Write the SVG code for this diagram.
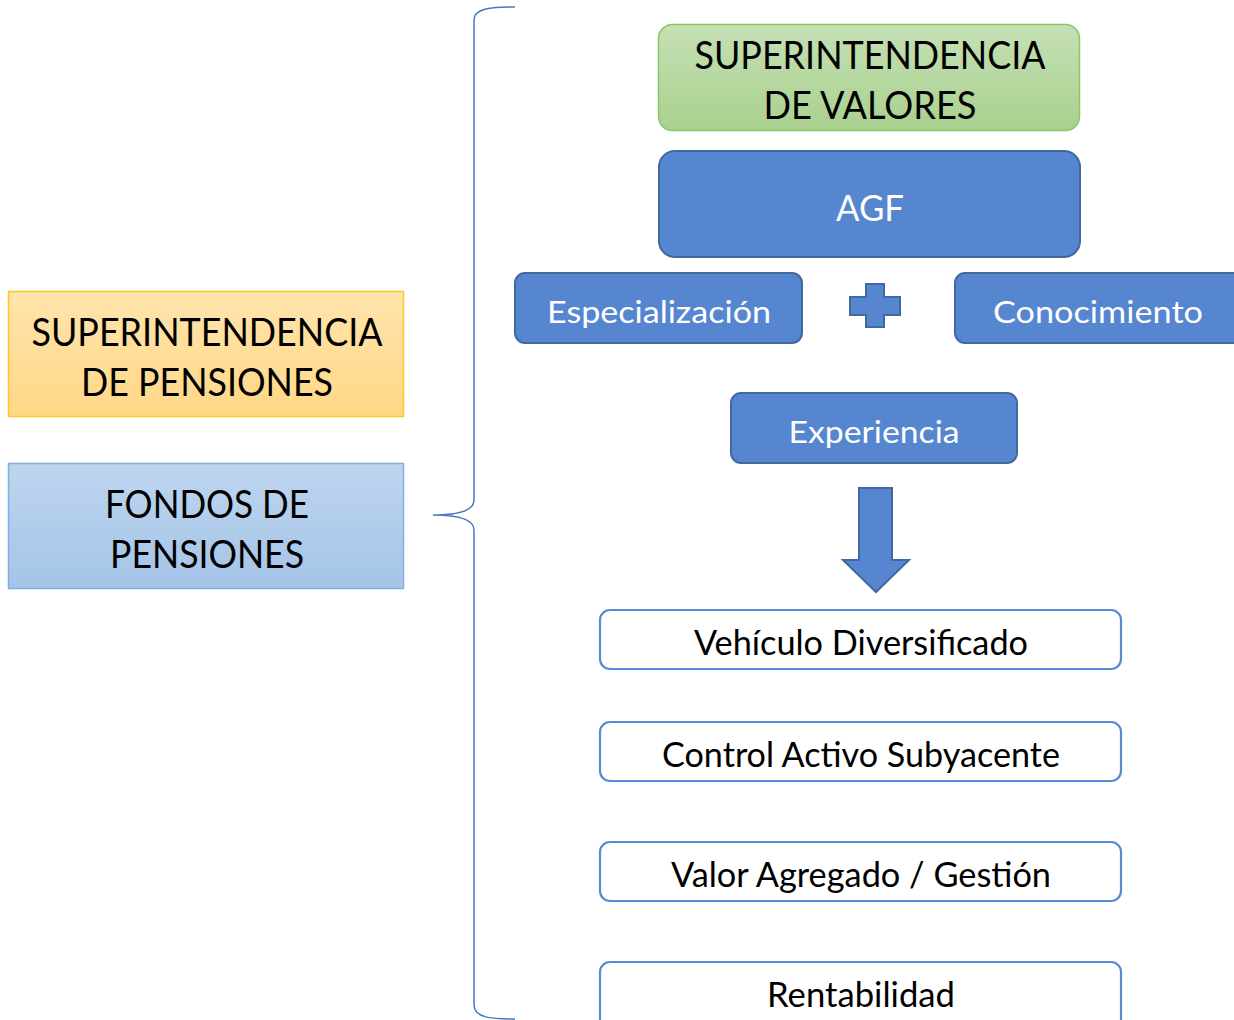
<svg xmlns="http://www.w3.org/2000/svg" width="1234" height="1020" viewBox="0 0 1234 1020">
<defs>
<linearGradient id="gGreen" x1="0" y1="0" x2="0" y2="1"><stop offset="0" stop-color="#c6e0b5"/><stop offset="1" stop-color="#a9d18e"/></linearGradient>
<linearGradient id="gOrange" x1="0" y1="0" x2="0" y2="1"><stop offset="0" stop-color="#ffe4ad"/><stop offset="1" stop-color="#ffd886"/></linearGradient>
<linearGradient id="gBlue" x1="0" y1="0" x2="0" y2="1"><stop offset="0" stop-color="#bed5ee"/><stop offset="1" stop-color="#a4c4e8"/></linearGradient>
<style>
text{font-family:"Lato","Open Sans","Liberation Sans",sans-serif;text-anchor:middle}
.dk{fill:#000;font-size:38px}
.wt{fill:#fff;font-size:31px}
.blk{fill:#000;font-size:34px}
.solid{fill:#5586cf;stroke:#41689f;stroke-width:2}
.outl{fill:#fff;stroke:#5b8ad4;stroke-width:2.2}
</style>
</defs>
<g id="connectors">
<path d="M515 7 C492 7 474 8 474 20 L474 500 C474 512 455 515 433 515 C455 515 474 518 474 530 L474 1005 C474 1018 492 1019 515 1019" fill="none" stroke="#4a78c6" stroke-width="1.5"/>
</g>
<g id="sup-pensiones">
<rect x="8.5" y="291.5" width="395" height="125" fill="url(#gOrange)" stroke="#ffc62a" stroke-width="1.5"/>
<text class="dk" x="207" y="346" textLength="351" lengthAdjust="spacingAndGlyphs">SUPERINTENDENCIA</text>
<text class="dk" x="207" y="396" textLength="252" lengthAdjust="spacingAndGlyphs">DE PENSIONES</text>
</g>
<g id="fondos">
<rect x="8.5" y="463.5" width="395" height="125" fill="url(#gBlue)" stroke="#7fb0e0" stroke-width="1.5"/>
<text class="dk" x="207" y="518" textLength="204" lengthAdjust="spacingAndGlyphs">FONDOS DE</text>
<text class="dk" x="207" y="568" textLength="194" lengthAdjust="spacingAndGlyphs">PENSIONES</text>
</g>
<g id="sup-valores">
<rect x="658.5" y="24.5" width="421" height="106" rx="14" fill="url(#gGreen)" stroke="#8cc56a" stroke-width="1.5"/>
<text class="dk" x="870" y="69" textLength="351" lengthAdjust="spacingAndGlyphs">SUPERINTENDENCIA</text>
<text class="dk" x="870" y="119" textLength="213" lengthAdjust="spacingAndGlyphs">DE VALORES</text>
</g>
<g id="agf">
<rect class="solid" x="659" y="151" width="421" height="106" rx="16"/>
<text class="wt" x="870" y="221" style="font-size:36px" textLength="68" lengthAdjust="spacingAndGlyphs">AGF</text>
</g>
<g id="especializacion">
<rect class="solid" x="515" y="273" width="287" height="70" rx="10"/>
<text class="wt" x="659" y="323" textLength="224" lengthAdjust="spacingAndGlyphs">Especialización</text>
</g>
<g id="plus">
<path class="solid" d="M866 284 H884 V297 H900 V315 H884 V327 H866 V315 H850 V297 H866 Z" stroke-width="1.5"/>
</g>
<g id="conocimiento">
<rect class="solid" x="955" y="273" width="290" height="70" rx="10"/>
<text class="wt" x="1098" y="323" textLength="210" lengthAdjust="spacingAndGlyphs">Conocimiento</text>
</g>
<g id="experiencia">
<rect class="solid" x="731" y="393" width="286" height="70" rx="10"/>
<text class="wt" x="874" y="443" textLength="171" lengthAdjust="spacingAndGlyphs">Experiencia</text>
</g>
<g id="arrow">
<path class="solid" d="M859 488 H892 V560 H909 L876 592 L843 560 H859 Z" stroke-width="1.5"/>
</g>
<g id="vehiculo">
<rect class="outl" x="600" y="610" width="521" height="59" rx="10"/>
<text class="blk" x="861" y="655" textLength="334" lengthAdjust="spacingAndGlyphs">Vehículo Diversificado</text>
</g>
<g id="control">
<rect class="outl" x="600" y="722" width="521" height="59" rx="10"/>
<text class="blk" x="861" y="767" textLength="398" lengthAdjust="spacingAndGlyphs">Control Activo Subyacente</text>
</g>
<g id="valor">
<rect class="outl" x="600" y="842" width="521" height="59" rx="10"/>
<text class="blk" x="861" y="887" textLength="380" lengthAdjust="spacingAndGlyphs">Valor Agregado / Gestión</text>
</g>
<g id="rentabilidad">
<rect class="outl" x="600" y="962" width="521" height="70" rx="10"/>
<text class="blk" x="861" y="1007" textLength="188" lengthAdjust="spacingAndGlyphs">Rentabilidad</text>
</g>
</svg>
